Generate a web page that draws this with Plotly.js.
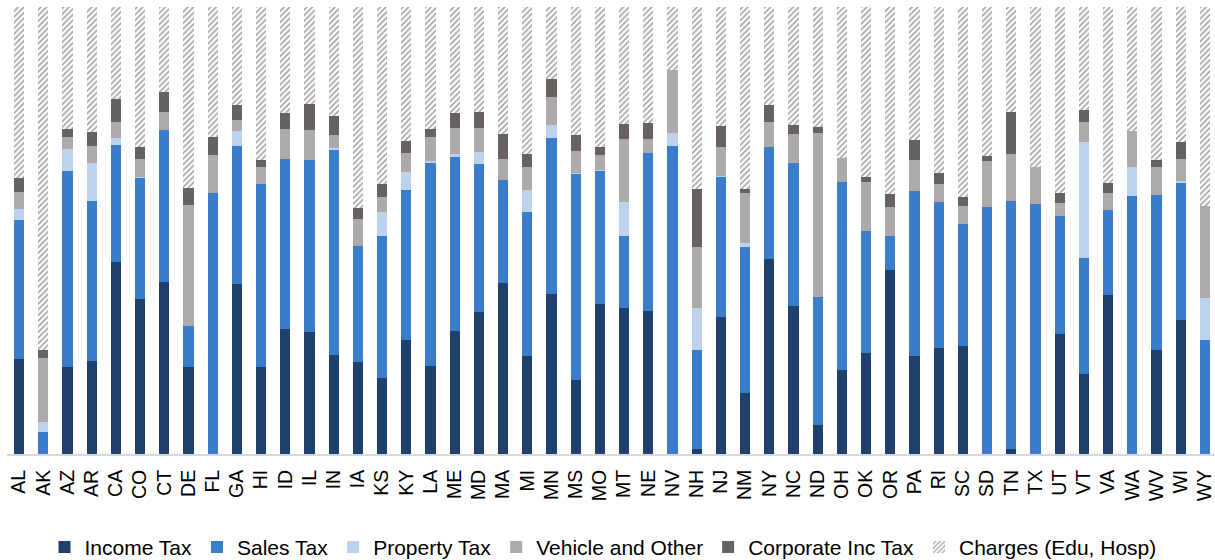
<!DOCTYPE html>
<html>
<head>
<meta charset="utf-8">
<script src="https://cdn.plot.ly/plotly-3.0.1.min.js"></script>
<style>
html,body{margin:0;padding:0;overflow:hidden;background:#fff;}
#chart{width:1218px;height:560px;}
</style>
</head>
<body>
<div id="chart"></div>
<script>
const states = ["AL","AK","AZ","AR","CA","CO","CT","DE","FL","GA","HI","ID","IL","IN","IA","KS","KY","LA","ME","MD","MA","MI","MN","MS","MO","MT","NE","NV","NH","NJ","NM","NY","NC","ND","OH","OK","OR","PA","RI","SC","SD","TN","TX","UT","VT","VA","WA","WV","WI","WY"];

const incomeTax = [21.2,0,19.5,20.7,42.9,34.8,38.4,19.4,0,38.0,19.4,27.9,27.2,22.3,20.5,16.9,25.6,19.6,27.4,31.9,38.3,22.0,35.8,16.5,33.6,32.6,32.1,0,1.2,30.8,13.7,43.6,33.0,6.5,18.7,22.6,41.2,21.8,23.7,24.1,0,1.2,0,26.8,17.9,35.5,0,23.2,29.9,0];
const salesTax = [31.2,4.9,43.9,35.8,26.4,27.1,34.0,9.3,58.4,30.9,41.0,38.0,38.6,46.0,26.0,31.9,33.4,45.5,39.0,33.0,23.0,32.2,34.9,46.0,29.8,16.1,35.2,68.9,22.1,31.4,32.5,25.0,32.1,28.6,42.2,27.3,7.6,37.0,32.7,27.4,55.2,55.4,56.0,26.4,25.9,19.1,57.7,34.8,30.8,25.5];
const propertyTax = [2.5,2.3,4.9,8.7,1.4,0.2,0,0,0,3.4,0,0,0,0.3,0,5.2,4.2,0.5,0.7,2.7,0,4.9,2.8,0.3,0.3,7.7,0,3.0,9.4,0.2,1.0,0,0,0,0,0,0,0,0,0,0,0,0,0,25.9,0,6.5,0,0.5,9.5];
const vehicleOther = [3.8,14.3,2.7,3.8,3.7,4.0,4.2,26.9,8.4,2.5,3.8,6.7,6.7,3.0,6.1,3.4,4.2,5.3,5.8,5.5,4.6,5.2,6.3,4.9,3.5,14.0,3.1,14.0,13.5,6.5,11.1,5.6,6.4,36.8,5.4,10.9,6.3,7.0,4.0,3.9,10.4,10.5,8.2,2.8,4.6,3.8,8.1,6.3,4.9,20.6];
const corpIncTax = [3.1,1.7,1.6,3.0,5.2,2.7,4.3,4.0,4.1,3.3,1.6,3.7,5.9,4.3,2.4,2.9,2.6,1.9,3.2,3.5,5.6,2.8,4.0,3.7,1.6,3.5,3.7,0,13.1,4.6,1.0,3.9,2.0,1.3,0,1.1,3.1,4.3,2.4,2.2,1.1,9.5,0,2.3,2.7,2.2,0,1.5,3.7,0];
const charges = [38.2,76.7,27.4,28.0,20.5,31.4,19.1,40.4,29.1,22.0,34.1,23.7,21.6,24.4,45.0,39.6,30.0,27.2,23.8,23.5,28.5,32.9,16.1,28.5,31.5,26.1,25.9,14.1,40.7,26.7,40.7,21.8,26.5,26.8,33.8,38.1,41.7,29.8,37.2,42.4,33.3,23.4,35.8,41.6,23.0,39.4,27.6,34.2,30.3,44.5];

const seriesNames = ["Income Tax","Sales Tax","Property Tax","Vehicle and Other","Corporate Inc Tax","Charges (Edu, Hosp)"];
const seriesValues = [incomeTax, salesTax, propertyTax, vehicleOther, corpIncTax, charges];
const seriesColors = ["#1F3F6D","#3A7DCA","#BDD2EC","#AEAAAA","#67625F","#FFFFFF"];

const traces = seriesNames.map((name, i) => {
  const t = {
    type: "bar",
    name: name,
    x: states,
    y: seriesValues[i],
    marker: {color: seriesColors[i], line: {width: 0}},
    hoverinfo: "x+y+name"
  };
  if (i === 5) {
    t.marker = {
      color: "#FFFFFF",
      line: {width: 0},
      pattern: {shape: "/", fgcolor: "#A3A3A3", bgcolor: "#FFFFFF", size: 4, solidity: 0.4}
    };
  }
  return t;
});

const layout = {
  width: 1218,
  height: 560,
  barmode: "stack",
  barnorm: "percent",
  bargap: 0.58,
  paper_bgcolor: "#FFFFFF",
  plot_bgcolor: "#FFFFFF",
  font: {family: "Liberation Sans, Arial, sans-serif", color: "#000000"},
  margin: {l: 7, r: 1, t: 7, b: 106, autoexpand: false},
  xaxis: {
    tickangle: -90,
    tickfont: {size: 19.5, color: "#000000"},
    showline: true,
    linecolor: "#D9D9D9",
    linewidth: 2,
    ticks: "",
    ticklabelstandoff: 6,
    automargin: false,
    showgrid: false,
    zeroline: false,
    fixedrange: true
  },
  yaxis: {
    visible: false,
    range: [0, 100],
    showgrid: false,
    zeroline: false,
    fixedrange: true
  },
  showlegend: true,
  legend: {
    orientation: "h",
    x: 0.031,
    xanchor: "left",
    y: -0.209,
    yanchor: "middle",
    font: {size: 21, color: "#000000"},
    itemwidth: 30,
    traceorder: "normal"
  }
};

Plotly.newPlot("chart", traces, layout, {displayModeBar: false, staticPlot: true});
</script>
</body>
</html>
